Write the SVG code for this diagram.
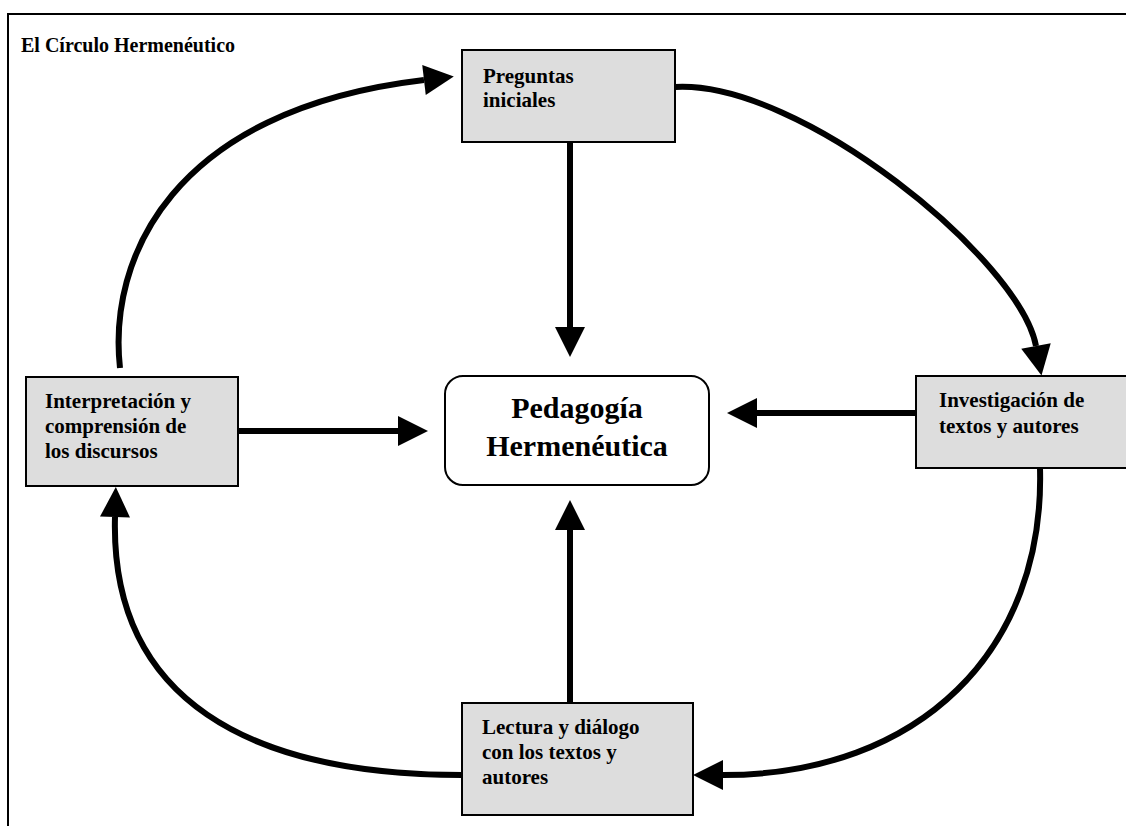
<svg xmlns="http://www.w3.org/2000/svg" width="1126" height="826" viewBox="0 0 1126 826">
<style>
.box{fill:#dddddd;stroke:#000;stroke-width:2}
.center{fill:#fff;stroke:#000;stroke-width:2}
.t{font-family:"Liberation Serif","Times New Roman",serif;font-weight:bold;font-size:21px;fill:#000}
.title{font-family:"Liberation Serif","Times New Roman",serif;font-weight:bold;font-size:20px;fill:#000}
.big{font-family:"Liberation Serif","Times New Roman",serif;font-weight:bold;font-size:30px;fill:#000;text-anchor:middle}
.c{fill:none;stroke:#000;stroke-width:6;marker-end:url(#ah)}
</style>
<defs>
<marker id="ah" markerUnits="userSpaceOnUse" markerWidth="32" markerHeight="32" refX="0" refY="15" orient="auto" overflow="visible">
<path d="M0,0 L30,15 L0,30 Z" fill="#000"/>
</marker>
</defs>
<rect width="1126" height="826" fill="#fff"/>
<rect x="8" y="14" width="1140" height="840" fill="none" stroke="#000" stroke-width="2"/>
<text class="title" x="21" y="52">El Círculo Hermenéutico</text>
<g id="connectors">
<path class="c" d="M120,368 C108,260 170,110 424,80"/>
<path class="c" d="M675,87 C800,80 1020,260 1036,346"/>
<path class="c" d="M1040,468 C1045,650 920,775 723,775"/>
<path class="c" d="M462,775 C250,775 110,700 115,517"/>
<path class="c" d="M570,142 V327"/>
<path class="c" d="M238,431 H398"/>
<path class="c" d="M916,413 H757"/>
<path class="c" d="M570,703 V530"/>
</g>
<g id="preguntas">
<rect class="box" x="462" y="50" width="213" height="92"/>
<text class="t" x="483" y="83">Preguntas</text>
<text class="t" x="483" y="107">iniciales</text>
</g>
<g id="pedagogia">
<rect class="center" x="445" y="376" width="264" height="109" rx="18"/>
<text class="big" x="577" y="418">Pedagogía</text>
<text class="big" x="577" y="456">Hermenéutica</text>
</g>
<g id="investigacion">
<rect class="box" x="916" y="376" width="230" height="92"/>
<text class="t" x="939" y="407">Investigación de</text>
<text class="t" x="939" y="433">textos y autores</text>
</g>
<g id="interpretacion">
<rect class="box" x="26" y="377" width="212" height="109"/>
<text class="t" x="45" y="408">Interpretación y</text>
<text class="t" x="45" y="433">comprensión de</text>
<text class="t" x="45" y="458">los discursos</text>
</g>
<g id="lectura">
<rect class="box" x="462" y="703" width="231" height="112"/>
<text class="t" x="482" y="734">Lectura y diálogo</text>
<text class="t" x="482" y="759">con los textos y</text>
<text class="t" x="482" y="784">autores</text>
</g>
</svg>
